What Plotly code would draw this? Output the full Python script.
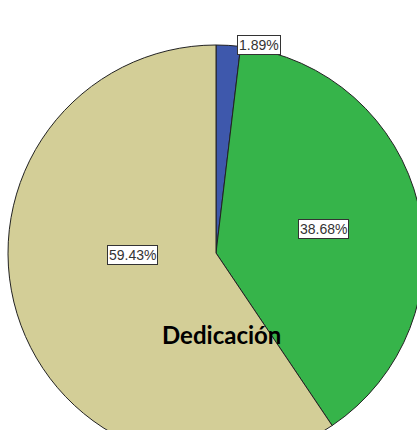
import plotly.graph_objects as go

labels = ["Bajo", "Medio", "Alto"]
values = [1.89, 38.68, 59.43]
colors = ["#3E58AC", "#36B44A", "#D3CE97"]
title_text = "Dedicación"

W, H = 432, 472
cx, cy, R = 216, 253, 208

fig = go.Figure(go.Pie(
    labels=labels, values=values, sort=False, direction="clockwise", rotation=0,
    marker=dict(colors=colors, line=dict(color="#222222", width=1)),
    textinfo="none", hoverinfo="label+percent", showlegend=False,
    domain=dict(x=[(cx - R) / W, (cx + R) / W], y=[1 - (cy + R) / H, 1 - (cy - R) / H]),
))

label_pos = [(259, 45), (323, 229), (132, 255)]
ann = []
for v, (px, py) in zip(values, label_pos):
    ann.append(dict(x=px / W, y=1 - py / H, xref="paper", yref="paper", xanchor="center", yanchor="middle",
                    text=f"{v:.2f}%", showarrow=False, bgcolor="white", bordercolor="#333333",
                    borderwidth=1, borderpad=1,
                    font=dict(family="Liberation Sans, Arial", size=14, color="#333333")))
ann.append(dict(x=222 / W, y=1 - 334 / H, xref="paper", yref="paper", xanchor="center", yanchor="middle",
                text=f"<b>{title_text}</b>", showarrow=False,
                font=dict(family="Lato, Open Sans", size=24, color="black")))

fig.update_layout(width=W, height=H, margin=dict(l=0, r=0, t=0, b=0),
                  paper_bgcolor="white", plot_bgcolor="white", annotations=ann)

fig.write_html("out.html", config={"displayModeBar": False},
               post_script="document.body.style.margin='0';document.documentElement.style.overflow='hidden';document.body.style.overflow='hidden';")
